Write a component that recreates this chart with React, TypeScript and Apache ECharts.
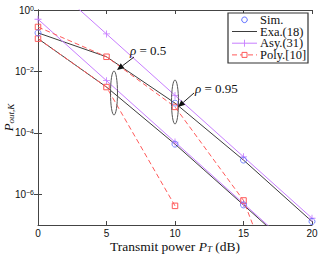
import React, { useEffect, useRef } from "react";
import * as echarts from "echarts";

// x values (dB)
const xs = [0, 5, 10, 15, 20];
// rho = 0.95 curves
const exaHigh = [0.18, 0.03, 9.3e-4, 1.3e-5, 1.3e-7];
const asyHigh = [16.6, 0.166, 1.66e-3, 1.66e-5, 1.66e-7];
const polyHigh = [0.28, 0.03, 7e-4, 6.3e-7, 1e-12];
const simHighX = [0, 10, 15, 20];
const simHigh = [0.18, 9.3e-4, 1.3e-5, 1.3e-7];
// rho = 0.5 curves
const exaLow = [0.117, 3.1e-3, 4.3e-5, 4.5e-7, 4.5e-9];
const asyLow = [0.5, 5e-3, 5e-5, 5e-7, 5e-9];
const polyLowX = [0, 5, 10];
const polyLow = [0.117, 3.1e-3, 4.2e-7];
const simLowX = [10, 15];
const simLow = [4.3e-5, 4.5e-7];

const yTickValues = [1e-6, 1e-4, 1e-2, 1];
const xTickLabels = ["0", "5", "10", "15", "20"];
const legendNames = ["Sim.", "Exa.(18)", "Asy.(31)", "Poly.[10]"];

const BLACK = "#3c3c3c";
const PURPLE = "#c77dff";
const RED = "#ff5a5a";
const BLUE = "#5a6bff";
const AXIS = "#444";
const SERIF = "'Liberation Serif', 'DejaVu Serif', serif";
const SANS = "'Liberation Sans', Arial, sans-serif";
const PLUS = "path://M4.4,0H5.6V4.4H10V5.6H5.6V10H4.4V5.6H0V4.4H4.4Z";

const pairs = (x: number[], y: number[]) => x.map((v, i) => [v, y[i]]);

function arrow(sx: number, sy: number, tx: number, ty: number) {
  const dx = tx - sx, dy = ty - sy;
  const L = Math.hypot(dx, dy);
  const ux = dx / L, uy = dy / L;
  const hl = 7, hw = 3;
  const bx = tx - ux * hl, by = ty - uy * hl;
  return [
    { type: "line", shape: { x1: sx, y1: sy, x2: bx, y2: by }, style: { stroke: "#222", lineWidth: 1 } },
    {
      type: "polygon",
      shape: { points: [[tx, ty], [bx - uy * hw, by + ux * hw], [bx + uy * hw, by - ux * hw]] },
      style: { fill: "#111" },
    },
  ];
}

function legendGraphic() {
  const x0 = 228, y0 = 13, w = 80, h = 50;
  const rowY = [19.8, 31.5, 43.2, 54.9];
  const lx1 = 232, lx2 = 257, cx = (lx1 + lx2) / 2;
  const els: any[] = [
    { type: "rect", shape: { x: x0, y: y0, width: w, height: h }, style: { fill: "#fff", stroke: "#333", lineWidth: 1.2 } },
  ];
  els.push({ type: "circle", shape: { cx, cy: rowY[0], r: 2.8 }, style: { fill: "none", stroke: BLUE, lineWidth: 1 } });
  els.push({ type: "line", shape: { x1: lx1, y1: rowY[1], x2: lx2, y2: rowY[1] }, style: { stroke: BLACK, lineWidth: 1 } });
  els.push({ type: "line", shape: { x1: lx1, y1: rowY[2], x2: lx2, y2: rowY[2] }, style: { stroke: PURPLE, lineWidth: 1 } });
  els.push({ type: "line", shape: { x1: cx, y1: rowY[2] - 3.5, x2: cx, y2: rowY[2] + 3.5 }, style: { stroke: PURPLE, lineWidth: 0.9 } });
  els.push({ type: "line", shape: { x1: lx1, y1: rowY[3], x2: lx2, y2: rowY[3] }, style: { stroke: RED, lineWidth: 1, lineDash: [5, 3] } });
  els.push({ type: "rect", shape: { x: cx - 2.5, y: rowY[3] - 2.5, width: 5, height: 5 }, style: { fill: "#fff", stroke: RED, lineWidth: 1 } });
  legendNames.forEach((t, i) => {
    els.push({
      type: "text",
      x: 260,
      y: rowY[i],
      style: { text: t, fontFamily: SERIF, fontSize: 12.5, lineHeight: 11, fill: "#111", verticalAlign: "middle" },
    });
  });
  return els.map((e) => ({ ...e, z: 20 }));
}

export default function App() {
  const ref = useRef<HTMLDivElement>(null);
  useEffect(() => {
    if (!ref.current) return;
    const chart = echarts.init(ref.current, null, { renderer: "svg" });
    const lineS = (name: string, data: any[], color: string, extra: any = {}) => ({
      type: "line",
      name,
      data,
      clip: true,
      lineStyle: { color, width: 1, ...(extra.lineStyle || {}) },
      itemStyle: extra.itemStyle || { color },
      symbol: extra.symbol || "none",
      symbolSize: extra.symbolSize || 6,
      showSymbol: !!extra.symbol,
      z: extra.z || 2,
    });
    const simStyle = { color: "transparent", borderColor: BLUE, borderWidth: 1 };
    const polyItem = { color: "transparent", borderColor: RED, borderWidth: 1 };
    const yLabel = {
      customValues: yTickValues,
      fontFamily: SANS,
      fontSize: 10,
      color: "#111",
      margin: 4,
      formatter: (v: number) => {
        const e = Math.round(Math.log10(v));
        return "{b|10}{s|" + (e < 0 ? "\u2212" + -e : e) + "}";
      },
      rich: {
        b: { fontFamily: SANS, fontSize: 10, lineHeight: 10, verticalAlign: "bottom", color: "#111" },
        s: { fontFamily: SANS, fontSize: 7, lineHeight: 7, verticalAlign: "top", color: "#111" },
      },
    };
    chart.setOption({
      animation: false,
      backgroundColor: "#fff",
      grid: { left: 38, right: 7, top: 10, bottom: 30, containLabel: false, outerBoundsMode: "none" },
      xAxis: [
        {
          type: "value",
          min: 0,
          max: 20,
          interval: 5,
          axisLine: { show: true, lineStyle: { color: AXIS } },
          axisTick: { inside: true, length: 4, lineStyle: { color: AXIS } },
          splitLine: { show: false },
          axisLabel: {
            fontFamily: SANS,
            fontSize: 10,
            color: "#111",
            margin: 3,
            formatter: (v: number) => xTickLabels[xs.indexOf(v)] ?? String(v),
          },
          name: "Transmit power {i|P}{s|T} (dB)",
          nameLocation: "middle",
          nameGap: 14,
          nameMoveOverlap: false,
          nameTextStyle: {
            fontFamily: SERIF,
            fontSize: 13.5,
            color: "#111",
            lineHeight: 14,
            rich: {
              i: { fontFamily: SERIF, fontStyle: "italic", fontSize: 13.5, color: "#111", lineHeight: 14 },
              s: { fontFamily: SERIF, fontStyle: "italic", fontSize: 9, color: "#111", lineHeight: 8, verticalAlign: "bottom" },
            },
          },
        },
        {
          type: "value",
          position: "top",
          min: 0,
          max: 20,
          interval: 5,
          axisLine: { show: true, lineStyle: { color: AXIS } },
          axisTick: { inside: true, length: 4, lineStyle: { color: AXIS } },
          axisLabel: { show: false },
          splitLine: { show: false },
        },
      ],
      yAxis: [
        {
          type: "log",
          min: 1e-7,
          max: 1,
          axisLine: { show: true, lineStyle: { color: AXIS } },
          axisTick: { inside: true, length: 4, customValues: yTickValues, lineStyle: { color: AXIS } },
          minorTick: { show: false },
          splitLine: { show: false },
          axisLabel: yLabel,
          name: "{i|P}{s|out,K}",
          nameLocation: "middle",
          nameRotate: 90,
          nameGap: 23,
          nameMoveOverlap: false,
          nameTextStyle: {
            fontFamily: SERIF,
            fontSize: 13,
            color: "#111",
            lineHeight: 14,
            rich: {
              i: { fontFamily: SERIF, fontStyle: "italic", fontSize: 13, color: "#111", lineHeight: 14 },
              s: { fontFamily: SERIF, fontStyle: "italic", fontSize: 9, color: "#111", lineHeight: 8, verticalAlign: "bottom" },
            },
          },
        },
        {
          type: "log",
          position: "right",
          min: 1e-7,
          max: 1,
          axisLine: { show: true, lineStyle: { color: AXIS } },
          axisTick: { inside: true, length: 4, customValues: yTickValues, lineStyle: { color: AXIS } },
          axisLabel: { show: false },
          splitLine: { show: false },
        },
      ],
      series: [
        {
          type: "scatter",
          name: "Sim.",
          data: pairs(simHighX, simHigh),
          symbol: "circle",
          symbolSize: 6,
          itemStyle: simStyle,
          clip: true,
          z: 4,
        },
        {
          type: "scatter",
          name: "Sim.",
          data: pairs(simLowX, simLow),
          symbol: "circle",
          symbolSize: 6,
          itemStyle: simStyle,
          clip: true,
          z: 4,
        },
        lineS("Exa.(18)", pairs(xs, exaHigh), BLACK),
        lineS("Exa.(18)", pairs(xs, exaLow), BLACK),
        lineS("Asy.(31)", pairs(xs, asyHigh), PURPLE, { symbol: PLUS, symbolSize: 7 }),
        lineS("Asy.(31)", pairs(xs, asyLow), PURPLE, { symbol: PLUS, symbolSize: 7 }),
        lineS("Poly.[10]", pairs(xs, polyHigh), RED, {
          symbol: "rect",
          symbolSize: 5.5,
          itemStyle: polyItem,
          lineStyle: { type: [5, 3] },
          z: 3,
        }),
        lineS("Poly.[10]", pairs(polyLowX, polyLow), RED, {
          symbol: "rect",
          symbolSize: 5.5,
          itemStyle: polyItem,
          lineStyle: { type: [5, 3] },
          z: 3,
        }),
      ],
      graphic: [
        {
          type: "text",
          x: 130,
          y: 50,
          style: {
            text: "{i|\u03c1} = 0.5",
            fontFamily: SERIF,
            fontSize: 13,
            fill: "#111",
            verticalAlign: "middle",
            rich: { i: { fontFamily: SERIF, fontStyle: "italic", fontSize: 13, fill: "#111" } },
          },
          z: 10,
        },
        {
          type: "text",
          x: 195,
          y: 88,
          style: {
            text: "{i|\u03c1} = 0.95",
            fontFamily: SERIF,
            fontSize: 13,
            fill: "#111",
            verticalAlign: "middle",
            rich: { i: { fontFamily: SERIF, fontStyle: "italic", fontSize: 13, fill: "#111" } },
          },
          z: 10,
        },
        { type: "ellipse", shape: { cx: 114, cy: 93, rx: 3.5, ry: 22 }, style: { fill: "none", stroke: "#555", lineWidth: 1 }, z: 10 },
        { type: "ellipse", shape: { cx: 175, cy: 102, rx: 3.5, ry: 22 }, style: { fill: "none", stroke: "#555", lineWidth: 1 }, z: 10 },
        ...arrow(134, 57, 117, 70).map((g) => ({ ...g, z: 10 })),
        ...arrow(194, 93, 178, 107).map((g) => ({ ...g, z: 10 })),
        ...legendGraphic(),
      ],
    });
    return () => chart.dispose();
  }, []);
  return <div ref={ref} style={{ width: 319, height: 255, position: "absolute", left: 0, top: 0 }} />;
}
